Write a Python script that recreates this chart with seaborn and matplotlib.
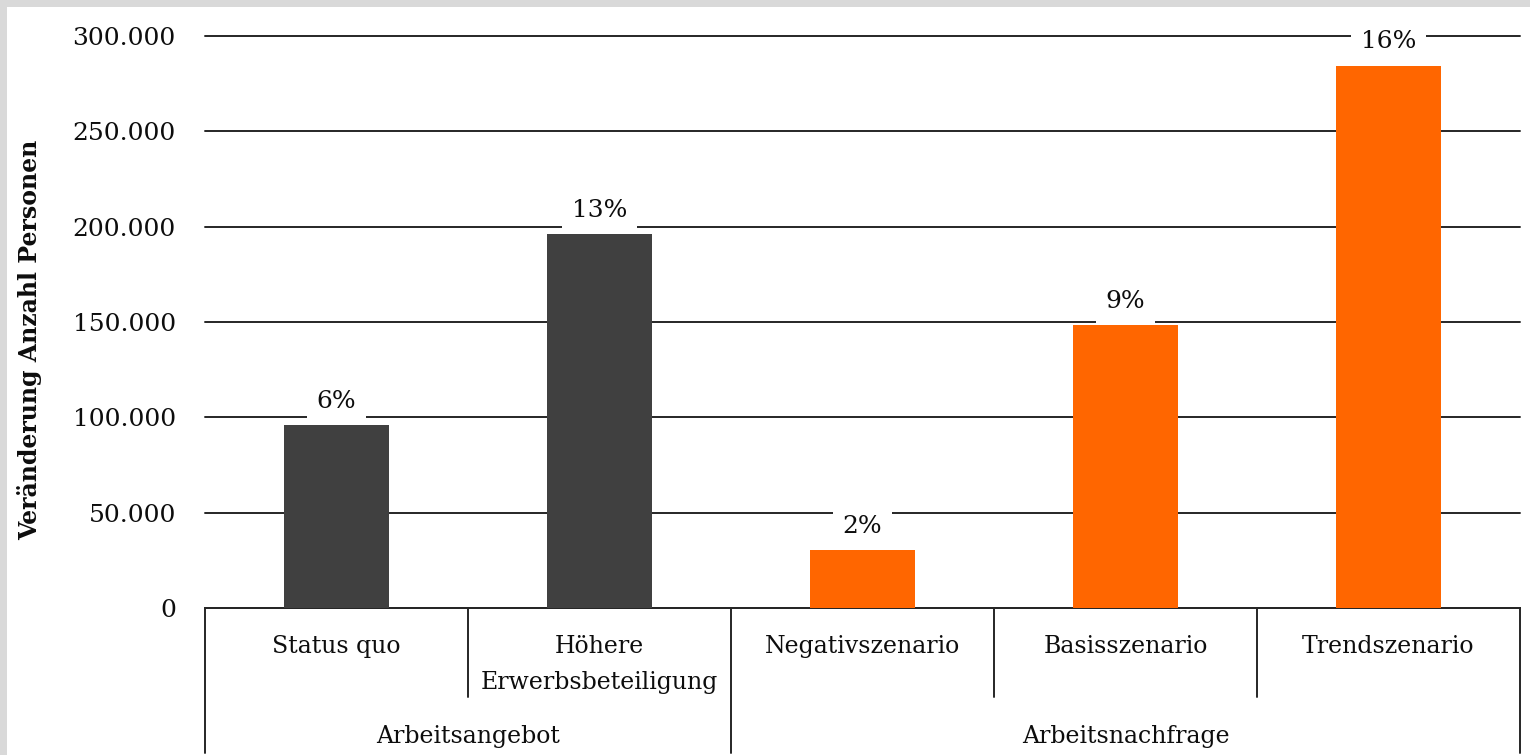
import numpy as np
import pandas as pd
import matplotlib
matplotlib.use("Agg")
import matplotlib.pyplot as plt
import seaborn as sns

# data
categories = ["Status quo", "Höhere\nErwerbsbeteiligung", "Negativszenario", "Basisszenario", "Trendszenario"]
values = [96000, 196000, 30500, 148500, 284500]
pct_labels = ["6%", "13%", "2%", "9%", "16%"]
groups = ["Arbeitsangebot", "Arbeitsangebot", "Arbeitsnachfrage", "Arbeitsnachfrage", "Arbeitsnachfrage"]
group_colors = {"Arbeitsangebot": "#404040", "Arbeitsnachfrage": "#FF6600"}
yticks = [0, 50000, 100000, 150000, 200000, 250000, 300000]

sns.set_style("white")
plt.rcParams['font.family'] = ['DejaVu Serif']
plt.rcParams['text.color'] = '#0d0d0d'
plt.rcParams['ytick.color'] = '#0d0d0d'
plt.rcParams['axes.labelcolor'] = '#0d0d0d'

df = pd.DataFrame({"cat": categories, "val": values, "grp": groups})

W, H = 1530, 755
fig = plt.figure(figsize=(W / 100, H / 100), dpi=100, facecolor="#d9d9d9")
# white card inside the grey frame
fig.add_artist(plt.Rectangle((7 / W, 0), 1, 1 - 7 / H, transform=fig.transFigure,
                             facecolor="white", edgecolor="none", zorder=-10))

ax = fig.add_axes([205 / W, 1 - 608 / H, 1315 / W, 572 / H])
ax.set_facecolor("none")

sns.barplot(data=df, x="cat", y="val", hue="grp", palette=group_colors, saturation=1,
            dodge=False, width=0.4, legend=False, linewidth=0, ax=ax, zorder=3)

ax.set_ylim(0, 300000)
ax.set_xlim(-0.5, len(categories) - 0.5)
ax.set_yticks(yticks)
ax.set_yticklabels([f"{v:,}".replace(",", ".") for v in yticks], fontsize=18)
ax.tick_params(axis="y", length=0, pad=21)
ax.yaxis.grid(True, color="#262626", linewidth=1.4, zorder=0)
for gl in ax.get_ygridlines():
    gl.set_clip_on(False)
ax.set_axisbelow(True)
for s in ["top", "right", "left"]:
    ax.spines[s].set_visible(False)
ax.spines["bottom"].set_color("#262626")
ax.spines["bottom"].set_linewidth(1.4)

ax.set_xticks([])
ax.set_xlabel("")
ax.set_ylabel("Veränderung Anzahl Personen", fontsize=17, fontweight="bold")
ax.yaxis.set_label_coords(-0.124, 0.468)

# percent labels with white box over gridlines
for i, (v, t) in enumerate(zip(values, pct_labels)):
    ax.annotate(t, (i, v), xytext=(0, 17), textcoords="offset points", ha="center", va="center",
                fontsize=18, zorder=5,
                bbox=dict(boxstyle="square,pad=0.4", facecolor="white", edgecolor="none"))

# category axis with two levels
tr = ax.get_xaxis_transform()
y_mid = -89 / 572
y_low = -145 / 572
for i, c in enumerate(categories):
    ax.text(i, -27 / 572, c, transform=tr, ha="center", va="top", fontsize=17, linespacing=1.75)

bounds = np.arange(len(categories) + 1) - 0.5
group_names = list(dict.fromkeys(groups))
group_edges = [-0.5]
for g in group_names:
    group_edges.append(group_edges[-1] + groups.count(g))
for b in bounds:
    bottom = y_low if b in group_edges else y_mid
    ax.plot([b, b], [0, bottom], transform=tr, color="#262626", lw=1.4, clip_on=False)
for g, a, b in zip(group_names, group_edges[:-1], group_edges[1:]):
    ax.text((a + b) / 2, -128 / 572, g, transform=tr, ha="center", va="center", fontsize=17)

fig.savefig("out.png", dpi=100, facecolor=fig.get_facecolor())
